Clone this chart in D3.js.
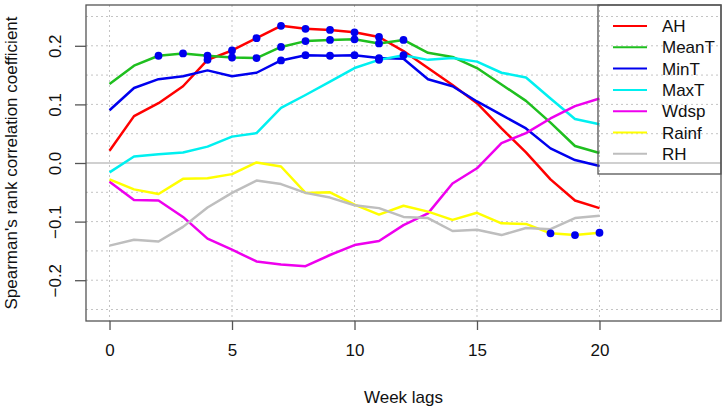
<!DOCTYPE html>
<html>
<head>
<meta charset="utf-8">
<script src="https://cdn.jsdelivr.net/npm/d3@7"></script>
<style>
  html, body { margin: 0; padding: 0; background: #fff; }
  svg { display: block; font-family: "Liberation Sans", Arial, sans-serif; }
</style>
</head>
<body>
<svg id="chart" width="727" height="411"></svg>
<script>
// ---- data ----
const weeks = [0,1,2,3,4,5,6,7,8,9,10,11,12,13,14,15,16,17,18,19,20];
const seriesNames = ["AH","MeanT","MinT","MaxT","Wdsp","Rainf","RH"];
const seriesColors = ["#ff0000","#1fbf1f","#0000ee","#00f0f0","#ee00ee","#ffff00","#bebebe"];
const AH    = [0.021,0.080,0.102,0.131,0.176,0.192,0.213,0.234,0.229,0.227,0.223,0.215,0.191,0.162,0.133,0.102,0.059,0.018,-0.028,-0.064,-0.077];
const MeanT = [0.135,0.166,0.183,0.187,0.183,0.180,0.179,0.198,0.208,0.210,0.211,0.204,0.210,0.188,0.181,0.162,0.134,0.106,0.069,0.029,0.017];
const MinT  = [0.090,0.128,0.143,0.148,0.158,0.148,0.154,0.175,0.184,0.183,0.184,0.179,0.178,0.143,0.131,0.105,0.082,0.059,0.025,0.005,-0.005];
const MaxT  = [-0.016,0.011,0.015,0.018,0.028,0.045,0.051,0.094,0.116,0.139,0.162,0.176,0.184,0.176,0.179,0.173,0.154,0.146,0.110,0.075,0.066];
const Wdsp  = [-0.032,-0.063,-0.064,-0.092,-0.129,-0.148,-0.168,-0.173,-0.176,-0.157,-0.140,-0.133,-0.106,-0.086,-0.035,-0.009,0.034,0.051,0.076,0.097,0.110];
const Rainf = [-0.028,-0.045,-0.053,-0.027,-0.026,-0.019,0.001,-0.006,-0.051,-0.050,-0.071,-0.088,-0.073,-0.083,-0.097,-0.085,-0.103,-0.104,-0.120,-0.123,-0.119];
const RH    = [-0.141,-0.131,-0.134,-0.109,-0.076,-0.051,-0.030,-0.036,-0.051,-0.059,-0.072,-0.077,-0.092,-0.094,-0.116,-0.114,-0.123,-0.111,-0.113,-0.094,-0.090];
// weeks with significant correlation (marked with dots), per series
const sigAH    = [4,5,6,7,8,9,10,11];
const sigMeanT = [2,3,4,5,6,7,8,9,10,11,12];
const sigMinT  = [7,8,9,10,11];
const sigMaxT  = [11,12];
const sigRainf = [18,19,20];
const xTicks = [0,5,10,15,20];
const yTicks = [-0.2,-0.1,0.0,0.1,0.2];
const yGrid  = [-0.25,-0.2,-0.15,-0.1,-0.05,0.05,0.1,0.15,0.2,0.25];
const xLabel = "Week lags";
const yLabel = "Spearman's rank correlation coefficient";

const values = [AH, MeanT, MinT, MaxT, Wdsp, Rainf, RH];
const sigs = [sigAH, sigMeanT, sigMinT, sigMaxT, [], sigRainf, []];

// ---- layout ----
const svg = d3.select("#chart");
const pL = 86, pR = 721, pT = 5, pB = 321;
const x = d3.scaleLinear().domain([-0.96, 24.96]).range([pL, pR]);
const y = d3.scaleLinear().domain([-0.2696, 0.2696]).range([pB, pT]);
const axisCol = "#555";
const fontSize = 17;

// grid
const grid = svg.append("g");
grid.selectAll("line.vg").data(xTicks).join("line")
  .attr("x1", d => x(d)).attr("x2", d => x(d))
  .attr("y1", pT).attr("y2", pB)
  .attr("stroke", "#c4c4c4").attr("stroke-width", 1).attr("stroke-dasharray", "2,3");
grid.selectAll("line.hg").data(yGrid).join("line")
  .attr("x1", pL).attr("x2", pR)
  .attr("y1", d => y(d)).attr("y2", d => y(d))
  .attr("stroke", "#c4c4c4").attr("stroke-width", 1).attr("stroke-dasharray", "2,3");
grid.append("line")
  .attr("x1", pL).attr("x2", pR).attr("y1", y(0)).attr("y2", y(0))
  .attr("stroke", "#d0d0d0").attr("stroke-width", 2);

// lines
const line = d3.line().x((d, i) => x(weeks[i])).y(d => y(d));
const lines = svg.append("g");
values.forEach((vals, k) => {
  lines.append("path").datum(vals)
    .attr("d", line).attr("fill", "none")
    .attr("stroke", seriesColors[k]).attr("stroke-width", 2.5)
    .attr("stroke-linejoin", "round");
});

// significance dots
const dots = svg.append("g");
values.forEach((vals, k) => {
  dots.selectAll(null).data(sigs[k]).join("circle")
    .attr("cx", w => x(weeks[w])).attr("cy", w => y(vals[w]))
    .attr("r", 3.9).attr("fill", "#0000ee");
});

// frame
svg.append("rect").attr("x", pL).attr("y", pT)
  .attr("width", pR - pL).attr("height", pB - pT)
  .attr("fill", "none").attr("stroke", axisCol).attr("stroke-width", 1.3);

// axes
const xAxis = d3.axisBottom(x).tickValues(xTicks).tickSize(9).tickPadding(14).tickFormat(d3.format("d"));
const gx = svg.append("g").attr("transform", `translate(0,${pB})`).call(xAxis);
gx.select(".domain").remove();
gx.selectAll(".tick line").attr("stroke", axisCol).attr("stroke-width", 1.3);
gx.selectAll(".tick text").attr("font-size", fontSize).attr("fill", "#111")
  .attr("font-family", "Liberation Sans, Arial, sans-serif");

const yAxis = d3.axisLeft(y).tickValues(yTicks).tickSize(11).tickFormat(d3.format(".1f"));
const gy = svg.append("g").attr("transform", `translate(${pL},0)`).call(yAxis);
gy.select(".domain").remove();
gy.selectAll(".tick line").attr("stroke", axisCol).attr("stroke-width", 1.3);
gy.selectAll(".tick text")
  .attr("font-size", fontSize).attr("fill", "#111")
  .attr("font-family", "Liberation Sans, Arial, sans-serif")
  .attr("x", null).attr("dy", null)
  .attr("text-anchor", "middle")
  .attr("transform", "translate(-25,0) rotate(-90)")
  .text(d => d3.format(".1f")(d).replace("-", "\u2212"));

// axis titles
svg.append("text").attr("x", (pL + pR) / 2).attr("y", 403)
  .attr("text-anchor", "middle").attr("font-size", fontSize).attr("fill", "#111")
  .text(xLabel);
svg.append("text").attr("transform", `translate(17,${(pT + pB) / 2}) rotate(-90)`)
  .attr("text-anchor", "middle").attr("font-size", fontSize).attr("fill", "#111")
  .text(yLabel);

// legend
const lg = svg.append("g");
lg.append("rect").attr("x", 598).attr("y", pT).attr("width", pR - 598).attr("height", 169)
  .attr("fill", "none").attr("stroke", axisCol).attr("stroke-width", 1.3);
seriesNames.forEach((name, k) => {
  const yy = 26 + k * 21.3;
  lg.append("line").attr("x1", 613).attr("x2", 647).attr("y1", yy).attr("y2", yy)
    .attr("stroke", seriesColors[k]).attr("stroke-width", 2);
  lg.append("text").attr("x", 662).attr("y", yy + 6)
    .attr("font-size", fontSize).attr("fill", "#111").text(name);
});
</script>
</body>
</html>
